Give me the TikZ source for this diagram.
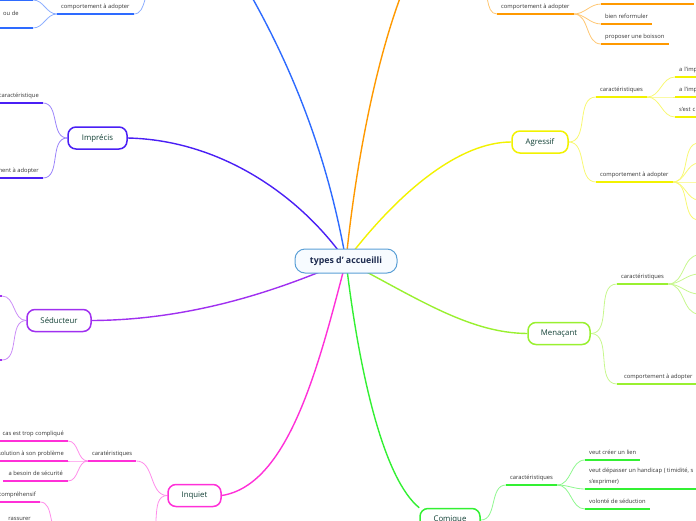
\documentclass[tikz,border=0pt]{standalone}
\usepackage{fontspec}
\setmainfont{Open Sans}
\usetikzlibrary{backgrounds}
\definecolor{cBlue}{HTML}{2E6BFF}
\definecolor{cImp}{HTML}{4A1FF5}
\definecolor{cSed}{HTML}{A030F0}
\definecolor{cInq}{HTML}{FF30D8}
\definecolor{cOra}{HTML}{FF9900}
\definecolor{cAgr}{HTML}{F2F200}
\definecolor{cMen}{HTML}{99F030}
\definecolor{cCom}{HTML}{33F033}
\definecolor{cRoot}{HTML}{5A9FD6}
\definecolor{cRootFill}{HTML}{F7FBFF}
\definecolor{cRootText}{HTML}{1D2B4F}
\definecolor{cTopicText}{HTML}{103F34}
\definecolor{cLbl}{HTML}{333333}
\tikzset{
  rootbox/.style={draw=cRoot, line width=1pt, fill=cRootFill, rounded corners=10pt,
    minimum width=102pt, minimum height=24pt, inner sep=0pt,
    font=\fontsize{8.8}{10}\selectfont\bfseries, text=cRootText},
  topic/.style={draw=#1, line width=1.5pt, fill=white, rounded corners=8pt,
    minimum height=22pt, inner sep=0pt,
    font=\fontsize{7.8}{9}\selectfont, text=cTopicText},
  lbl/.style={font=\fontsize{5.8}{7.5}\selectfont, text=cLbl, inner xsep=4pt,
    inner ysep=5pt, text depth=0pt},
  ul/.style={line width=2pt, draw=#1},
  mainline/.style={line width=1.4pt, draw=#1},
  subline/.style={line width=0.8pt, draw=#1!55},
}
\begin{document}
\begin{tikzpicture}[x=1pt,y=-1pt]
\useasboundingbox (0,0) rectangle (696,520);
% ---------- main nodes
\node[rootbox] (root) at (346,261) {types d' accueilli};
\node[topic=cImp, minimum width=59pt] (imp) at (97.5,138) {Imprécis};
\node[topic=cSed, minimum width=64pt] (sed) at (59,320.5) {Séducteur};
\node[topic=cInq, minimum width=53pt] (inq) at (194.5,495.5) {Inquiet};
\node[topic=cAgr, minimum width=56pt] (agr) at (540,142) {Agressif};
\node[topic=cMen, minimum width=62pt] (men) at (559,333.5) {Menaçant};
\node[topic=cCom, minimum width=60pt, minimum height=23pt] (com) at (450,520) {Comique};
% off-frame coordinates
\coordinate (bTop) at (245,-15);
\coordinate (oTop) at (405,-15);
% ---------- blue branch (top left)
\node[lbl, anchor=south west] (bComp) at (57,14) {comportement à adopter};
\coordinate (bPar) at (156,-14);
\coordinate (bA) at (33,0);
\coordinate (bAs) at (-5,0);
\coordinate (bB) at (33,28);
\coordinate (bBs) at (-5,28);
\node[lbl, anchor=base west, inner xsep=0pt] (bBt) at (3,15.5) {ou de};
% ---------- Imprécis
\node[lbl, anchor=south east] (iA) at (43,103) {caractéristique};
\node[lbl, anchor=south east] (iB) at (43,178) {comportement à adopter};
% ---------- Séducteur
\coordinate (sA) at (2,296);
\coordinate (sAs) at (-5,296);
\coordinate (sB) at (2,360);
\coordinate (sBs) at (-5,360);
% ---------- Inquiet
\node[lbl, anchor=south west] (qA) at (88,461) {caratéristiques};
\node[lbl, anchor=south east] (qA1) at (68,441) {cas est trop compliqué};
\node[lbl, anchor=south east] (qA2) at (68,461) {solution à son problème};
\node[lbl, anchor=south east, inner xsep=5pt] (qA3) at (68,481) {a besoin de sécurité};
\node[lbl, anchor=south east] (qB1) at (40,502) {compréhensif};
\node[lbl, anchor=south east] (qB2) at (35,526) {rassurer};
\coordinate (qB) at (62,534);
\coordinate (qBr) at (145,540);
% ---------- orange branch (top right)
\node[lbl, anchor=south west] (oComp) at (497,14) {comportement à adopter};
\coordinate (oPar) at (478,-14);
\node[lbl, anchor=south west, minimum width=93pt] (o1) at (601,4) {};
\node[lbl, anchor=south west] (o2) at (601,24) {bien reformuler};
\node[lbl, anchor=south west] (o3) at (601,44) {proposer une boisson};
% ---------- Agressif
\node[lbl, anchor=south west] (aC) at (596,97) {caractéristiques};
\node[lbl, anchor=south west, minimum width=30pt, text width=22pt] (aC1) at (675,77) {a l'imp};
\node[lbl, anchor=south west, minimum width=30pt, text width=22pt] (aC2) at (675,97) {a l'imp};
\node[lbl, anchor=south west, minimum width=30pt, text width=22pt] (aC3) at (675,117) {s'est c};
\node[lbl, anchor=south west] (aB) at (596,182) {comportement à adopter};
\coordinate (aB1) at (699,143);
\coordinate (aB2) at (699,163);
\coordinate (aB3) at (699,182);
\coordinate (aB4) at (699,200);
\coordinate (aB5) at (699,220);
% ---------- Menaçant
\node[lbl, anchor=south west] (mC) at (617,284) {caractéristiques};
\coordinate (mC1) at (699,255);
\coordinate (mC2) at (699,274);
\coordinate (mC3) at (699,294);
\coordinate (mC4) at (699,314);
\node[lbl, anchor=south west, minimum width=82pt] (mB) at (617,384) {comportement à adopter};
% ---------- Comique
\node[lbl, anchor=south west] (cC) at (506,485) {caractéristiques};
\node[lbl, anchor=south west] (cC1) at (585,460) {veut créer un lien};
\node[lbl, anchor=south west, text width=107pt] (cC2) at (585,489) {s'exprimer)};
\node[lbl, anchor=base west, inner xsep=0pt] (cC2t) at (589,472.5) {veut dépasser un handicap ( timidité, s};
\node[lbl, anchor=south west] (cC3) at (585,509) {volonté de séduction};

\begin{scope}[on background layer]
  % main branches
  \draw[mainline=cBlue] (root.center) .. controls (330,170) and (300,80) .. (bTop);
  \draw[mainline=cOra] (root.center) .. controls (355,170) and (375,60) .. (oTop);
  \draw[mainline=cImp] (imp.east) .. controls (220,140) and (300,195) .. (root.center);
  \draw[mainline=cSed] (sed.east) .. controls (200,320) and (290,285) .. (root.center);
  \draw[mainline=cInq] (inq.east) .. controls (290,485) and (320,360) .. (root.center);
  \draw[mainline=cAgr] (root.center) .. controls (400,190) and (460,142) .. (agr.west);
  \draw[mainline=cMen] (root.center) .. controls (420,300) and (470,333) .. (men.west);
  \draw[mainline=cCom] (root.center) .. controls (360,380) and (385,480) .. (com.north west);
  % blue
  \draw[subline=cBlue] (bPar) to[out=180,in=0] (bComp.south east);
  \draw[subline=cBlue] (bComp.south west) to[out=180,in=0] (bA);
  \draw[subline=cBlue] (bComp.south west) to[out=180,in=0] (bB);
  \draw[ul=cBlue] (bComp.south west) -- (bComp.south east);
  \draw[ul=cBlue] (bAs) -- (bA);
  \draw[ul=cBlue] (bBs) -- (bB);
  % Imprécis
  \draw[subline=cImp] (imp.west) to[out=180,in=0] (iA.south east);
  \draw[subline=cImp] (imp.west) to[out=180,in=0] (iB.south east);
  \draw[ul=cImp] (iA.south west) -- (iA.south east);
  \draw[ul=cImp] (iB.south west) -- (iB.south east);
  % Séducteur
  \draw[subline=cSed] (sed.west) to[out=180,in=0] (sA);
  \draw[subline=cSed] (sed.west) to[out=180,in=0] (sB);
  \draw[ul=cSed] (sAs) -- (sA);
  \draw[ul=cSed] (sBs) -- (sB);
  % Inquiet
  \draw[subline=cInq] (inq.west) to[out=180,in=0] (qA.south east);
  \draw[subline=cInq] (inq.west) to[out=180,in=0] (qBr);
  \draw[subline=cInq] (qA.south west) to[out=180,in=0] (qA1.south east);
  \draw[subline=cInq] (qA.south west) to[out=180,in=0] (qA2.south east);
  \draw[subline=cInq] (qA.south west) to[out=180,in=0] (qA3.south east);
  \draw[subline=cInq] (qB) to[out=180,in=0] (qB1.south east);
  \draw[subline=cInq] (qB) to[out=180,in=0] (qB2.south east);
  \draw[ul=cInq] (qA.south west) -- (qA.south east);
  \draw[ul=cInq] (qA1.south west) -- (qA1.south east);
  \draw[ul=cInq] (qA2.south west) -- (qA2.south east);
  \draw[ul=cInq] (qA3.south west) -- (qA3.south east);
  \draw[ul=cInq] (qB1.south west) -- (qB1.south east);
  \draw[ul=cInq] (qB2.south west) -- (qB2.south east);
  % orange
  \draw[subline=cOra] (oPar) to[out=0,in=180] (oComp.south west);
  \draw[subline=cOra] (oComp.south east) to[out=0,in=180] (o1.south west);
  \draw[subline=cOra] (oComp.south east) to[out=0,in=180] (o2.south west);
  \draw[subline=cOra] (oComp.south east) to[out=0,in=180] (o3.south west);
  \draw[ul=cOra] (oComp.south west) -- (oComp.south east);
  \draw[ul=cOra] (o1.south west) -- (o1.south east);
  \draw[ul=cOra] (o2.south west) -- (o2.south east);
  \draw[ul=cOra] (o3.south west) -- (o3.south east);
  % Agressif
  \draw[subline=cAgr] (agr.east) to[out=0,in=180] (aC.south west);
  \draw[subline=cAgr] (agr.east) to[out=0,in=180] (aB.south west);
  \foreach \t in {aC1,aC2,aC3}{
    \draw[subline=cAgr] (aC.south east) to[out=0,in=180] (\t.south west);
    \draw[ul=cAgr] (\t.south west) -- (\t.south east);
  }
  \foreach \t in {aB1,aB2,aB3,aB4,aB5}{
    \draw[subline=cAgr] (aB.south east) to[out=0,in=180] (\t);
  }
  \draw[ul=cAgr] (aC.south west) -- (aC.south east);
  \draw[ul=cAgr] (aB.south west) -- (aB.south east);
  % Menaçant
  \draw[subline=cMen] (men.east) to[out=0,in=180] (mC.south west);
  \draw[subline=cMen] (men.east) to[out=0,in=180] (mB.south west);
  \foreach \t in {mC1,mC2,mC3,mC4}{
    \draw[subline=cMen] (mC.south east) to[out=0,in=180] (\t);
  }
  \draw[ul=cMen] (mC.south west) -- (mC.south east);
  \draw[ul=cMen] (mB.south west) -- (mB.south east);
  % Comique
  \draw[subline=cCom] (com.east) to[out=0,in=180] (cC.south west);
  \foreach \t in {cC1,cC2,cC3}{
    \draw[subline=cCom] (cC.south east) to[out=0,in=180] (\t.south west);
    \draw[ul=cCom] (\t.south west) -- (\t.south east);
  }
  \draw[ul=cCom] (cC.south west) -- (cC.south east);
\end{scope}
\end{tikzpicture}
\end{document}
